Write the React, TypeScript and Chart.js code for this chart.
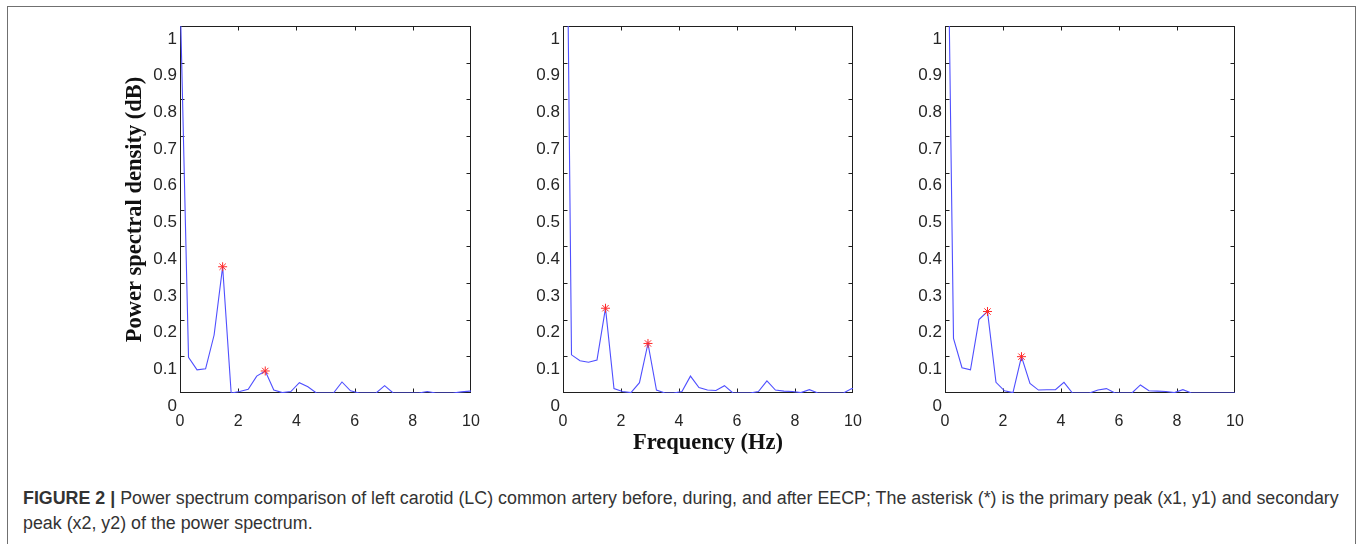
import React, { useEffect, useRef } from "react";
import { Chart, registerables } from "chart.js";

Chart.register(...registerables);

// Frequency bins (Hz)
const FREQ_HZ = [
  0, 0.293, 0.586, 0.879, 1.172, 1.465, 1.758, 2.051, 2.344, 2.637, 2.93, 3.223,
  3.516, 3.809, 4.102, 4.395, 4.688, 4.981, 5.274, 5.567, 5.86, 6.153, 6.446,
  6.739, 7.032, 7.325, 7.618, 7.911, 8.204, 8.497, 8.79, 9.083, 9.376, 9.669,
  9.962, 10.255,
];

// Power spectral density, before / during / after EECP
const PSD_BEFORE = [
  1.1, 0.097, 0.063, 0.066, 0.158, 0.344, 0.0, 0.004, 0.01, 0.046, 0.06, 0.008,
  0.001, 0.004, 0.028, 0.017, 0.0, 0.0, 0.0, 0.03, 0.006, 0.0, 0.0, 0.0, 0.02,
  0.0, 0.0, 0.0, 0.0, 0.004, 0.0, 0.0, 0.0, 0.003, 0.005, 0.005,
];
const PSD_DURING = [
  2.42, 0.104, 0.088, 0.084, 0.09, 0.231, 0.012, 0.004, 0.001, 0.028, 0.135,
  0.008, 0.0, 0.0, 0.004, 0.046, 0.015, 0.008, 0.007, 0.02, 0.0, 0.0, 0.0, 0.004,
  0.033, 0.008, 0.005, 0.004, 0.001, 0.009, 0.0, 0.0, 0.0, 0.0, 0.012, 0.015,
];
const PSD_AFTER = [
  1.89, 0.149, 0.069, 0.063, 0.2, 0.222, 0.029, 0.006, 0.001, 0.099, 0.026,
  0.008, 0.009, 0.009, 0.029, 0.0, 0.0, 0.0, 0.008, 0.012, 0.0, 0.0, 0.0, 0.022,
  0.006, 0.005, 0.004, 0.001, 0.009, 0.0, 0.0, 0.0, 0.0, 0.0, 0.0, 0.0,
];

// Indices of primary / secondary peaks (asterisks)
const PEAKS_BEFORE = [5, 10];
const PEAKS_DURING = [5, 10];
const PEAKS_AFTER = [5, 9];

const X_TICKS = [0, 2, 4, 6, 8, 10];
const X_TICK_LABELS = ["0", "2", "4", "6", "8", "10"];
const Y_TICKS = [0, 0.1, 0.2, 0.3, 0.4, 0.5, 0.6, 0.7, 0.8, 0.9, 1];
const Y_TICK_LABELS = ["0", "0.1", "0.2", "0.3", "0.4", "0.5", "0.6", "0.7", "0.8", "0.9", "1"];

const X_TITLE = "Frequency (Hz)";
const Y_TITLE = "Power spectral density (dB)";

const SANS = '"Liberation Sans", Arial, sans-serif';
const SERIF = '"Liberation Serif", "Times New Roman", serif';

const boxPlugin = {
  id: "matlabBox",
  beforeDatasetsDraw(chart: any) {
    const { ctx, chartArea: a, scales } = chart;
    const L = Math.round(a.left) + 0.5;
    const R = Math.round(a.right) - 0.5;
    const T = Math.round(a.top) + 0.5;
    const B = Math.round(a.bottom) - 0.5;
    ctx.save();
    ctx.strokeStyle = "#1f1f1f";
    ctx.lineWidth = 1;
    ctx.strokeRect(L, T, R - L, B - T);
    const len = 4;
    ctx.beginPath();
    X_TICKS.forEach((v) => {
      if (v <= scales.x.min || v >= scales.x.max) return;
      const px = Math.round(scales.x.getPixelForValue(v)) + 0.5;
      ctx.moveTo(px, B);
      ctx.lineTo(px, B - len);
      ctx.moveTo(px, T);
      ctx.lineTo(px, T + len);
    });
    Y_TICKS.forEach((v) => {
      if (v <= scales.y.min || v >= scales.y.max) return;
      const py = Math.round(scales.y.getPixelForValue(v)) + 0.5;
      ctx.moveTo(L, py);
      ctx.lineTo(L + len, py);
      ctx.moveTo(R, py);
      ctx.lineTo(R - len, py);
    });
    ctx.stroke();
    ctx.restore();
  },
};

type PanelProps = {
  values: number[];
  peaks: number[];
  plotLeft: number;
  plotWidth: number;
  showXTitle: boolean;
  showYTitle: boolean;
};

const AXIS_W = 80;
const RIGHT_PAD = 12;
const TOP_PAD = 10;
const X_AXIS_H = 67;
const CANVAS_TOP = 16;
const CANVAS_H = 444;

function Panel({ values, peaks, plotLeft, plotWidth, showXTitle, showYTitle }: PanelProps) {
  const ref = useRef<HTMLCanvasElement | null>(null);
  const width = AXIS_W + plotWidth + RIGHT_PAD;

  useEffect(() => {
    if (!ref.current) return;
    const lineData = FREQ_HZ.map((f, i) => ({ x: f, y: values[i] }));
    const peakData = peaks.map((i) => ({ x: FREQ_HZ[i], y: values[i] }));
    const chart = new Chart(ref.current, {
      type: "line",
      data: {
        datasets: [
          {
            type: "line",
            data: lineData,
            borderColor: "#4f4fff",
            borderWidth: 1.1,
            pointRadius: 0,
            tension: 0,
            fill: false,
            order: 2,
          },
          {
            type: "scatter",
            data: peakData,
            pointStyle: "star",
            pointRadius: 4.5,
            pointBorderColor: "#ff2a2a",
            pointBackgroundColor: "#ff2a2a",
            pointBorderWidth: 1,
            showLine: false,
            order: 1,
          },
        ],
      } as any,
      options: {
        animation: false,
        responsive: false,
        maintainAspectRatio: false,
        devicePixelRatio: 1,
        layout: { padding: { top: TOP_PAD, right: RIGHT_PAD, left: 0, bottom: 0 } },
        plugins: { legend: { display: false }, tooltip: { enabled: false } },
        scales: {
          x: {
            type: "linear",
            min: 0,
            max: 10,
            afterBuildTicks: (s: any) => {
              s.ticks = X_TICKS.map((v) => ({ value: v }));
            },
            afterFit: (s: any) => {
              s.height = X_AXIS_H;
              s.paddingLeft = 0;
              s.paddingRight = 0;
              s.paddingTop = 0;
              s.paddingBottom = 0;
            },
            ticks: {
              autoSkip: false,
              maxRotation: 0,
              padding: 19,
              color: "#262626",
              font: { family: SANS, size: 16 },
              callback: (_v: any, i: number) => X_TICK_LABELS[i],
            },
            grid: { display: false, drawTicks: false },
            border: { display: false },
            title: {
              display: showXTitle,
              text: X_TITLE,
              color: "#111",
              font: { family: SERIF, size: 22.5, weight: "bold" },
              padding: { top: 0, bottom: 3.5 },
            },
          },
          y: {
            type: "linear",
            min: 0,
            max: 1,
            afterBuildTicks: (s: any) => {
              s.ticks = Y_TICKS.map((v) => ({ value: v }));
            },
            afterFit: (s: any) => {
              s.width = AXIS_W;
              s.paddingLeft = 0;
              s.paddingRight = 0;
              s.paddingTop = 0;
              s.paddingBottom = 0;
            },
            ticks: {
              autoSkip: false,
              padding: 3,
              labelOffset: 13,
              color: "#262626",
              font: { family: SANS, size: 17 },
              callback: (_v: any, i: number) => Y_TICK_LABELS[i],
            },
            grid: { display: false, drawTicks: false },
            border: { display: false },
            title: {
              display: showYTitle,
              text: Y_TITLE,
              color: "#111",
              font: { family: SERIF, size: 22.5, weight: "bold" },
              padding: { top: 22, bottom: 0 },
            },
          },
        },
      } as any,
      plugins: [boxPlugin],
    });
    return () => chart.destroy();
  }, [values, peaks, showXTitle, showYTitle]);

  return (
    <canvas
      ref={ref}
      width={width}
      height={CANVAS_H}
      style={{
        position: "absolute",
        left: plotLeft - AXIS_W,
        top: CANVAS_TOP,
        width,
        height: CANVAS_H,
      }}
    />
  );
}

export default function App() {
  return (
    <div
      style={{
        position: "absolute",
        left: 0,
        top: 0,
        width: 1358,
        height: 544,
        overflow: "hidden",
        background: "#fff",
      }}
    >
      <div
        style={{
          position: "absolute",
          left: 7,
          top: 6,
          width: 1349,
          height: 600,
          border: "1px solid #707070",
          boxSizing: "border-box",
        }}
      />
      <Panel values={PSD_BEFORE} peaks={PEAKS_BEFORE} plotLeft={180} plotWidth={291} showXTitle={false} showYTitle={true} />
      <Panel values={PSD_DURING} peaks={PEAKS_DURING} plotLeft={563} plotWidth={290} showXTitle={true} showYTitle={false} />
      <Panel values={PSD_AFTER} peaks={PEAKS_AFTER} plotLeft={945} plotWidth={290} showXTitle={false} showYTitle={false} />
      <div
        style={{
          position: "absolute",
          left: 23,
          top: 486,
          fontFamily: SANS,
          fontSize: 17.85,
          lineHeight: "25px",
          color: "#333",
          whiteSpace: "nowrap",
        }}
      >
        <b>FIGURE 2 |</b> Power spectrum comparison of left carotid (LC) common artery before, during, and after EECP; The
        asterisk (*) is the primary peak (x1, y1) and secondary
        <br />
        peak (x2, y2) of the power spectrum.
      </div>
    </div>
  );
}
